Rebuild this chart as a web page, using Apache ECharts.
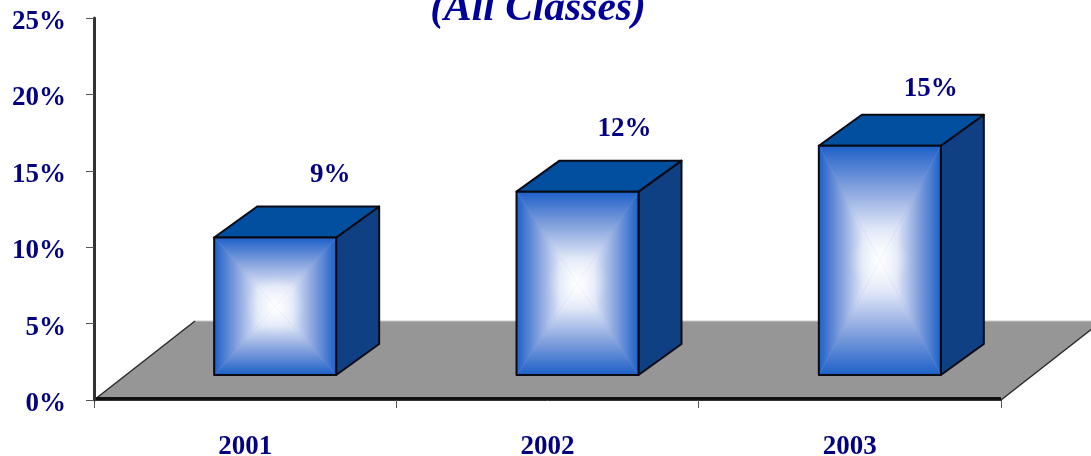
<!DOCTYPE html>
<html>
<head>
<meta charset="utf-8">
<style>html,body{margin:0;padding:0;background:#fff}#c{width:1091px;height:456px}</style>
<script src="https://cdn.jsdelivr.net/npm/echarts@6/dist/echarts.min.js"></script>
</head>
<body>
<div id="c"></div>
<script>
const categories = ['2001', '2002', '2003'];
const values = [9, 12, 15];
const yTicks = { min: 0, max: 25, step: 5 };
const titleText = '(All Classes)';

// Layout of the faux-3D scene, in pixels, kept apart from the data
const floorDepth = [101, -79];
const barDepth = [43, -31];
const barShift = [30, -25];
const barWidth = 122;
const labelNudge = [[55, -63], [47, -64], [51, -58]];
const serif = '"Liberation Serif", "Times New Roman", serif';
const navy = '#000080';

function floorItem(params, api) {
  const band = api.size([1, 0])[0];
  const a = api.coord([0, 0]);
  const b = api.coord([categories.length - 1, 0]);
  const l = a[0] - band / 2, r = b[0] + band / 2, y = a[1];
  const p = [[l, y], [r, y], [r + floorDepth[0], y + floorDepth[1]], [l + floorDepth[0], y + floorDepth[1]]];
  const seg = (s, e, stroke, w) => ({
    type: 'line',
    shape: { x1: s[0], y1: s[1], x2: e[0], y2: e[1] },
    style: { stroke, lineWidth: w }
  });
  return {
    type: 'group',
    children: [
      { type: 'polygon', shape: { points: p }, style: { fill: '#969696' } },
      seg(p[3], p[2], '#c8c8c8', 1),
      seg(p[0], p[3], '#2a2a2a', 1.5),
      seg(p[1], p[2], '#2a2a2a', 1.5),
      seg([l, y - 1.5], [r, y - 1.5], '#111', 3)
    ]
  };
}

function barItem(params, api) {
  const i = api.value(0);
  const top = api.coord([i, api.value(1)]);
  const base = api.coord([i, 0]);
  const x0 = top[0] + barShift[0] - barWidth / 2, x1 = x0 + barWidth;
  const y0 = top[1] + barShift[1], y1 = base[1] + barShift[1];
  const cx = (x0 + x1) / 2, cy = (y0 + y1) / 2;
  const dx = barDepth[0], dy = barDepth[1];
  const edge = '#1d60c8';
  const stops = [
    { offset: 0, color: edge },
    { offset: 0.35, color: '#7f9edc' },
    { offset: 0.72, color: '#dfe6f7' },
    { offset: 1, color: '#ffffff' }
  ];
  const grad = (ax, ay, bx, by) => ({ type: 'linear', x: ax, y: ay, x2: bx, y2: by, global: true, colorStops: stops });
  const tri = (pts, fill) => ({
    type: 'polygon', shape: { points: pts }, style: { fill, stroke: null }
  });
  const outline = { stroke: '#0a0a14', lineWidth: 2, lineJoin: 'round' };
  const n = labelNudge[i];
  return {
    type: 'group',
    children: [
      { type: 'polygon', shape: { points: [[x1, y0], [x1 + dx, y0 + dy], [x1 + dx, y1 + dy], [x1, y1]] },
        style: Object.assign({ fill: '#0f4083' }, outline) },
      { type: 'polygon', shape: { points: [[x0, y0], [x0 + dx, y0 + dy], [x1 + dx, y0 + dy], [x1, y0]] },
        style: Object.assign({ fill: '#014f9e' }, outline) },
      { type: 'rect', shape: { x: x0, y: y0, width: barWidth, height: y1 - y0 }, style: { fill: '#8aa6de' } },
      tri([[x0, y0], [x1, y0], [cx, cy]], grad(0, y0, 0, cy)),
      tri([[x0, y1], [x1, y1], [cx, cy]], grad(0, y1, 0, cy)),
      tri([[x0, y0], [x0, y1], [cx, cy]], grad(x0, 0, cx, 0)),
      tri([[x1, y0], [x1, y1], [cx, cy]], grad(x1, 0, cx, 0)),
      { type: 'circle', shape: { cx, cy, r: barWidth * 0.25 },
        style: { fill: { type: 'radial', x: 0.5, y: 0.5, r: 0.5, colorStops: [
          { offset: 0, color: 'rgba(255,255,255,0.55)' },
          { offset: 1, color: 'rgba(255,255,255,0)' }
        ] } } },
      { type: 'rect', shape: { x: x0, y: y0, width: barWidth, height: y1 - y0 },
        style: Object.assign({ fill: null }, outline) },
      { type: 'text', style: {
          x: cx + n[0], y: y0 + n[1] + 1, text: api.value(1) + '%',
          fill: navy, font: 'bold 27px ' + serif, textAlign: 'center', textVerticalAlign: 'middle'
        } }
    ]
  };
}

const chart = echarts.init(document.getElementById('c'), null, { renderer: 'canvas' });
chart.setOption({
  animation: false,
  backgroundColor: '#fff',
  title: {
    text: titleText, left: 533, top: -16, textAlign: 'center',
    textStyle: { color: '#000099', fontFamily: serif, fontSize: 41.5, fontWeight: 'bold', fontStyle: 'italic' }
  },
  grid: { left: 94, right: 90, top: 18, bottom: 56, outerBoundsMode: 'none' },
  xAxis: {
    type: 'category', data: categories, z: 1,
    axisLine: { show: true, lineStyle: { color: '#333', width: 1 } },
    axisTick: { show: true, length: 8, lineStyle: { color: '#555', width: 1 } },
    axisLabel: { color: navy, fontFamily: serif, fontSize: 27, fontWeight: 'bold', margin: 34 }
  },
  yAxis: {
    type: 'value', min: yTicks.min, max: yTicks.max, interval: yTicks.step, z: 3,
    splitLine: { show: false },
    axisLine: { show: true, lineStyle: { color: '#333', width: 3 } },
    axisTick: { show: true, length: 8, lineStyle: { color: '#555', width: 1 } },
    axisLabel: { formatter: '{value}%', color: navy, fontFamily: serif, fontSize: 27, fontWeight: 'bold', margin: 28, verticalAlign: 'top', lineHeight: 8 }
  },
  series: [
    { type: 'custom', z: 2, silent: true, renderItem: floorItem, data: [[0, 0]], encode: { x: 0, y: 1 } },
    { type: 'custom', z: 4, silent: true, renderItem: barItem,
      data: values.map((v, i) => [i, v]), encode: { x: 0, y: 1 } }
  ]
});
</script>
</body>
</html>
